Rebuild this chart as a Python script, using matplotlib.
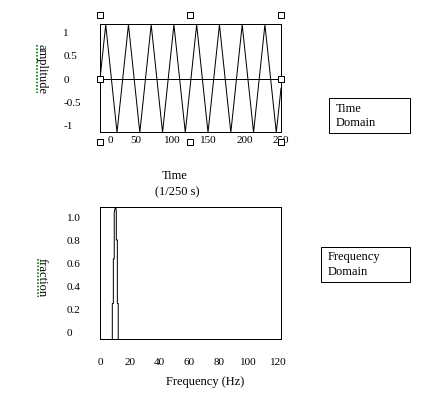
import matplotlib
matplotlib.use('Agg')
import matplotlib.pyplot as plt
from matplotlib.lines import Line2D
from matplotlib.patches import Rectangle
from matplotlib.transforms import ScaledTranslation

plt.rcParams['font.family'] = ['Liberation Serif', 'DejaVu Serif']

wave_t = [0, 7.9, 23.5, 39.3, 55.0, 70.7, 86.4, 102.1, 117.8, 133.5,
          149.2, 165.0, 180.7, 196.4, 212.1, 227.8, 243.5, 250]
wave_y = [0, 1.17, -1.15, 1.17, -1.15, 1.17, -1.15, 1.17, -1.15, 1.17,
          -1.15, 1.17, -1.15, 1.17, -1.15, 1.17, -1.15, -0.2]
time_ticks = [0, 50, 100, 150, 200, 250]
amp_ticks = [1, 0.5, 0, -0.5, -1]
amp_labels = ['1', '0.5', '0', '-0.5', '-1']

# frequency domain: narrow peak near 10 Hz
spec_f = [8.3, 8.3, 9.0, 9.0, 9.6, 9.6, 10.6, 11.0, 11.0, 11.7, 11.7, 12.3, 12.3]
spec_a = [0, 0.31, 0.31, 0.70, 0.70, 1.11, 1.16, 1.11, 0.865, 0.865, 0.31, 0.31, 0]
freq_ticks = [0, 20, 40, 60, 80, 100, 120]
frac_ticks = [0, 0.2, 0.4, 0.6, 0.8, 1.0]
frac_labels = ['0', '0.2', '0.4', '0.6', '0.8', '1.0']

W, H = 435, 399
fig = plt.figure(figsize=(W / 100, H / 100), dpi=100)
px = 0.72  # one pixel in points


def fx(x):
    return x / W


def fy(y):
    return 1 - y / H


# ---- top plot
ax1 = fig.add_axes([fx(100), fy(132), 181 / W, 108 / H])
ax1.plot(wave_t, wave_y, color='black', lw=px)
ax1.axhline(0, color='black', lw=px)
ax1.set_xlim(0, 250)
ax1.set_ylim(-1.14, 1.185)
ax1.set_xticks(time_ticks)
ax1.set_yticks(amp_ticks)
ax1.set_yticklabels(amp_labels)
ax1.tick_params(length=0, labelsize=8)
ax1.tick_params(axis='x', pad=3)
ax1.tick_params(axis='y', pad=26.5)
for lab in ax1.get_yticklabels():
    lab.set_ha('left')
first = ax1.get_xticklabels()[0]
first.set_transform(first.get_transform() + ScaledTranslation(0.10, 0, fig.dpi_scale_trans))
for s in ax1.spines.values():
    s.set_linewidth(px)

fig.text(fx(175), fy(176), 'Time', ha='center', va='center', fontsize=9)
fig.text(fx(177), fy(192), '(1/250 s)', ha='center', va='center', fontsize=9)
fig.text(fx(41.5), fy(69), 'amplitude', rotation=270, ha='center', va='center', fontsize=9)
fig.add_artist(Line2D([fx(37), fx(37)], [fy(45), fy(93)], color='#008000',
                      lw=1.2, ls=(0, (1, 1)), transform=fig.transFigure))

# ---- bottom plot
ax2 = fig.add_axes([fx(100), fy(339), 181 / W, 132 / H])
ax2.plot(spec_f, spec_a, color='black', lw=px)
ax2.set_xlim(0, 122)
ax2.set_ylim(0, 1.153)
ax2.set_xticks(freq_ticks)
ax2.set_yticks(frac_ticks)
ax2.set_yticklabels(frac_labels)
ax2.tick_params(length=0, labelsize=8)
ax2.tick_params(axis='x', pad=14)
ax2.tick_params(axis='y', pad=24)
for lab in ax2.get_yticklabels():
    lab.set_ha('left')
    lab.set_transform(lab.get_transform() + ScaledTranslation(0, 0.07, fig.dpi_scale_trans))
for s in ax2.spines.values():
    s.set_linewidth(px)

fig.text(fx(205), fy(382), 'Frequency (Hz)', ha='center', va='center', fontsize=9)
fig.text(fx(41.5), fy(278), 'fraction', rotation=270, ha='center', va='center', fontsize=9)
fig.add_artist(Line2D([fx(37.5), fx(37.5)], [fy(259), fy(297)], color='#008000',
                      lw=1.2, ls=(0, (1, 1)), transform=fig.transFigure))

# ---- selection handles round the top plot
hx = [100, 190, 281, 100, 281, 100, 190, 281]
hy = [15, 15, 15, 79, 79, 142, 142, 142]
fig.add_artist(Line2D([fx(v) for v in hx], [fy(v) for v in hy], ls='none', marker='s',
                      ms=4.6, mfc='white', mec='black', mew=px, transform=fig.transFigure))

# ---- side text boxes
fig.add_artist(Rectangle((fx(329), fy(133)), 81 / W, 35 / H, fill=False,
                         ec='black', lw=px, transform=fig.transFigure))
fig.text(fx(336), fy(109), 'Time', va='center', fontsize=9)
fig.text(fx(336), fy(123), 'Domain', va='center', fontsize=9)
fig.add_artist(Rectangle((fx(321), fy(282)), 89 / W, 35 / H, fill=False,
                         ec='black', lw=px, transform=fig.transFigure))
fig.text(fx(327.5), fy(257), 'Frequency', va='center', fontsize=9)
fig.text(fx(327.5), fy(272), 'Domain', va='center', fontsize=9)

fig.savefig('out.png', dpi=100)
